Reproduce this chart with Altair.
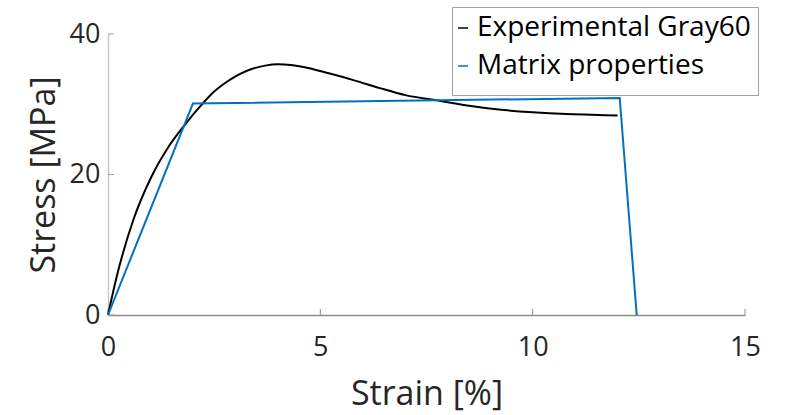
import altair as alt
import pandas as pd

# Experimental stress-strain curve (Gray60)
exp_strain = [0, 0.19, 0.6, 1.0, 1.4, 1.8, 2.2, 2.5, 2.8, 3.1, 3.4, 3.7, 4.0,
              4.3, 4.6, 5.2, 5.8, 6.4, 7.0, 7.8, 8.5, 9.2, 10.0, 10.8, 11.4, 12.0]
exp_stress = [0, 5.1, 13.6, 19.4, 23.7, 27.0, 29.9, 31.8, 33.2, 34.3, 35.05,
              35.5, 35.7, 35.6, 35.3, 34.4, 33.4, 32.3, 31.3, 30.5, 29.8,
              29.25, 28.85, 28.6, 28.5, 28.4]

# Bilinear matrix model
mat_strain = [0, 2.0, 12.05, 12.45]
mat_stress = [0, 30.1, 30.9, 0]

series_names = ["Experimental Gray60", "Matrix properties"]
series_colors = ["#000000", "#0072BD"]

x_ticks = [0, 5, 10, 15]
y_ticks = [0, 20, 40]

exp_df = pd.DataFrame({"strain": exp_strain, "stress": exp_stress,
                       "series": series_names[0],
                       "order": range(len(exp_strain))})
mat_df = pd.DataFrame({"strain": mat_strain, "stress": mat_stress,
                       "series": series_names[1],
                       "order": range(len(mat_strain))})

FONT = "Open Sans"
TXT = "#262626"

x_scale = alt.Scale(domain=[0, 15], nice=False, zero=False)
y_scale = alt.Scale(domain=[0, 40], nice=False, zero=False)
color_scale = alt.Scale(domain=series_names, range=series_colors)

x_enc = alt.X("strain:Q", scale=x_scale,
              axis=alt.Axis(title="Strain [%]", values=x_ticks, ticks=False,
                            grid=False, domainColor="#8c8c8c", domainWidth=1.5,
                            labelFontSize=27, labelPadding=19, labelColor=TXT,
                            titleFontSize=34, titleFontWeight="normal",
                            titleColor=TXT, titlePadding=17, labelFlush=False))
y_enc = alt.Y("stress:Q", scale=y_scale,
              axis=alt.Axis(title="Stress [MPa]", values=y_ticks, ticks=False,
                            grid=False, domainColor="#c8c8c8", domainWidth=1.5,
                            labelFontSize=27, labelPadding=8, labelColor=TXT,
                            titleFontSize=34, titleFontWeight="normal",
                            titleColor=TXT, titlePadding=8, labelFlush=False))
legend = alt.Legend(title=" ", titleOrient="bottom", titleFontSize=6,
                    titlePadding=2,
                    orient="none", legendX=344, legendY=-27,
                    symbolType="stroke", symbolSize=100,
                    symbolStrokeWidth=1.5, symbolOffset=-10,
                    labelFontSize=28, labelColor="#000000",
                    labelOffset=0, labelLimit=400,
                    rowPadding=10, padding=7,
                    strokeColor="#a0a0a0", fillColor="#ffffff")

exp_line = alt.Chart(exp_df).mark_line(
    strokeWidth=2, interpolate="monotone").encode(
    x=x_enc, y=y_enc,
    color=alt.Color("series:N", scale=color_scale, legend=legend),
    order="order:Q",
)
mat_line = alt.Chart(mat_df).mark_line(strokeWidth=2).encode(
    x=x_enc, y=y_enc,
    color=alt.Color("series:N", scale=color_scale, legend=legend),
    order="order:Q",
)

# inward tick marks on both axes
xt = pd.DataFrame({"v": x_ticks})
yt = pd.DataFrame({"v": y_ticks})
x_tick_marks = alt.Chart(xt).mark_rule(color="#8c8c8c", strokeWidth=1).encode(
    x=alt.X("v:Q", scale=x_scale), y=alt.value(275), y2=alt.value(281))
y_tick_marks = alt.Chart(yt).mark_rule(color="#a0a0a0", strokeWidth=1).encode(
    y=alt.Y("v:Q", scale=y_scale), x=alt.value(0), x2=alt.value(6))

chart = alt.layer(x_tick_marks, y_tick_marks, exp_line, mat_line).properties(
    width=637, height=281,
    autosize=alt.AutoSizeParams(type="none"),
    padding={"left": 108, "top": 34, "right": 44, "bottom": 100},
).configure(font=FONT).configure_view(stroke=None)

chart.save("out.html", embed_options={"renderer": "svg", "actions": False})
